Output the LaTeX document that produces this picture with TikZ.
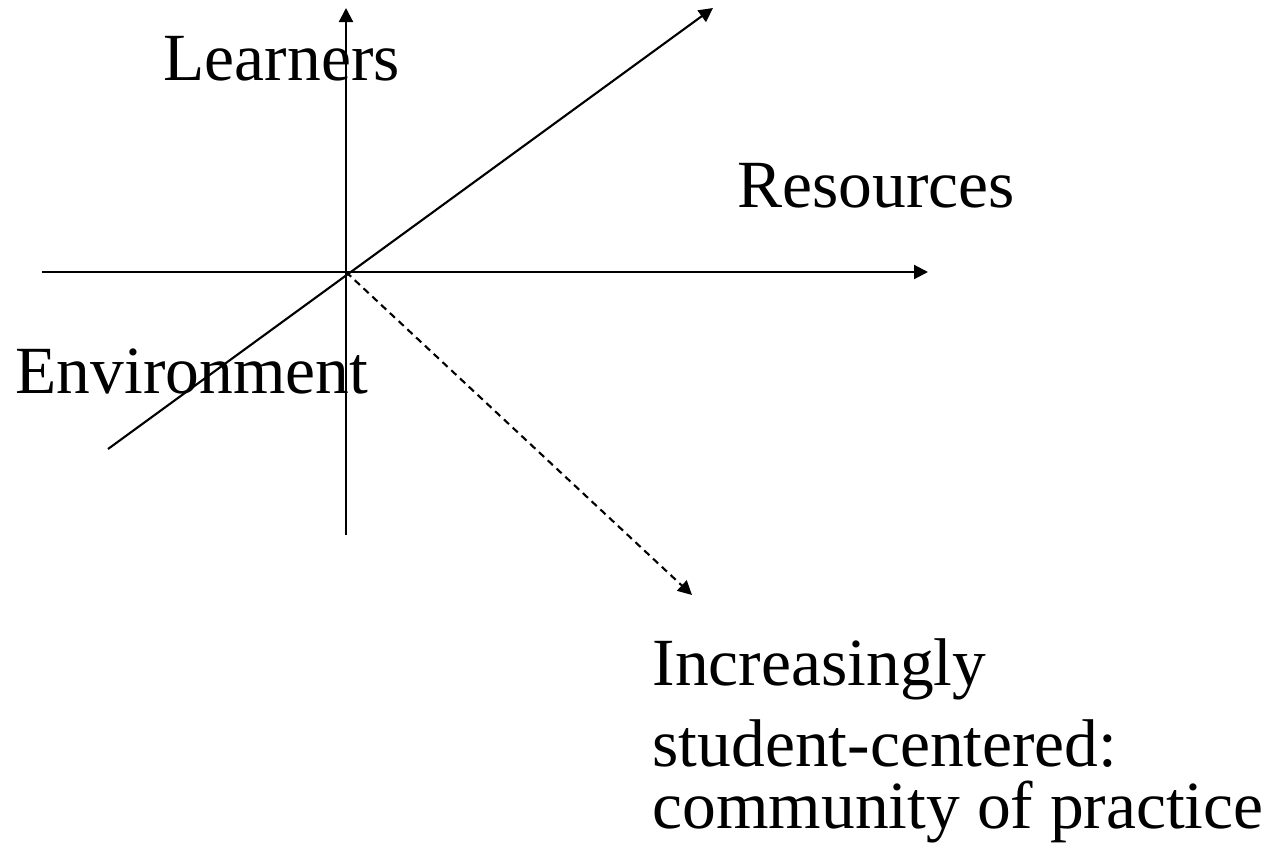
\documentclass[tikz,border=0pt]{standalone}
\usepackage{fontspec}
\setmainfont{Liberation Serif}
\usetikzlibrary{arrows.meta}

\begin{document}
\begin{tikzpicture}[
    axis/.style={line width=0.6pt, -{Triangle[length=0.14cm, width=0.14cm]}},
    label/.style={anchor=base west, inner sep=0pt, font=\fontsize{19.2}{17.4}\selectfont}
]
\useasboundingbox (0,0) rectangle (12.78,8.59);

% Axis ends
\coordinate (O) at (3.46,5.87);
\coordinate (learnersBot) at (3.46,3.24);
\coordinate (learnersTip) at (3.46,8.51);
\coordinate (resourcesBot) at (0.42,5.87);
\coordinate (resourcesTip) at (9.28,5.87);
\coordinate (environmentBot) at (1.08,4.10);
\coordinate (environmentTip) at (7.13,8.51);
\coordinate (studentTip) at (6.92,2.64);

% Axes
\draw[axis] (learnersBot) -- (learnersTip);
\draw[axis] (resourcesBot) -- (resourcesTip);
\draw[axis] (environmentBot) -- (environmentTip);
\draw[axis, dash pattern=on 0.7mm off 0.5mm] (O) -- (studentTip);

% Labels
\node[label] (learners) at (1.63,7.79) {Learners};
\node[label] (resources) at (7.37,6.52) {Resources};
\node[label] (environment) at (0.15,4.66) {Environment};
\node[label, align=left] (student) at (6.52,0.31) {Increasingly\\[0.16cm]student-centered:\\community of practice};
\end{tikzpicture}
\end{document}
